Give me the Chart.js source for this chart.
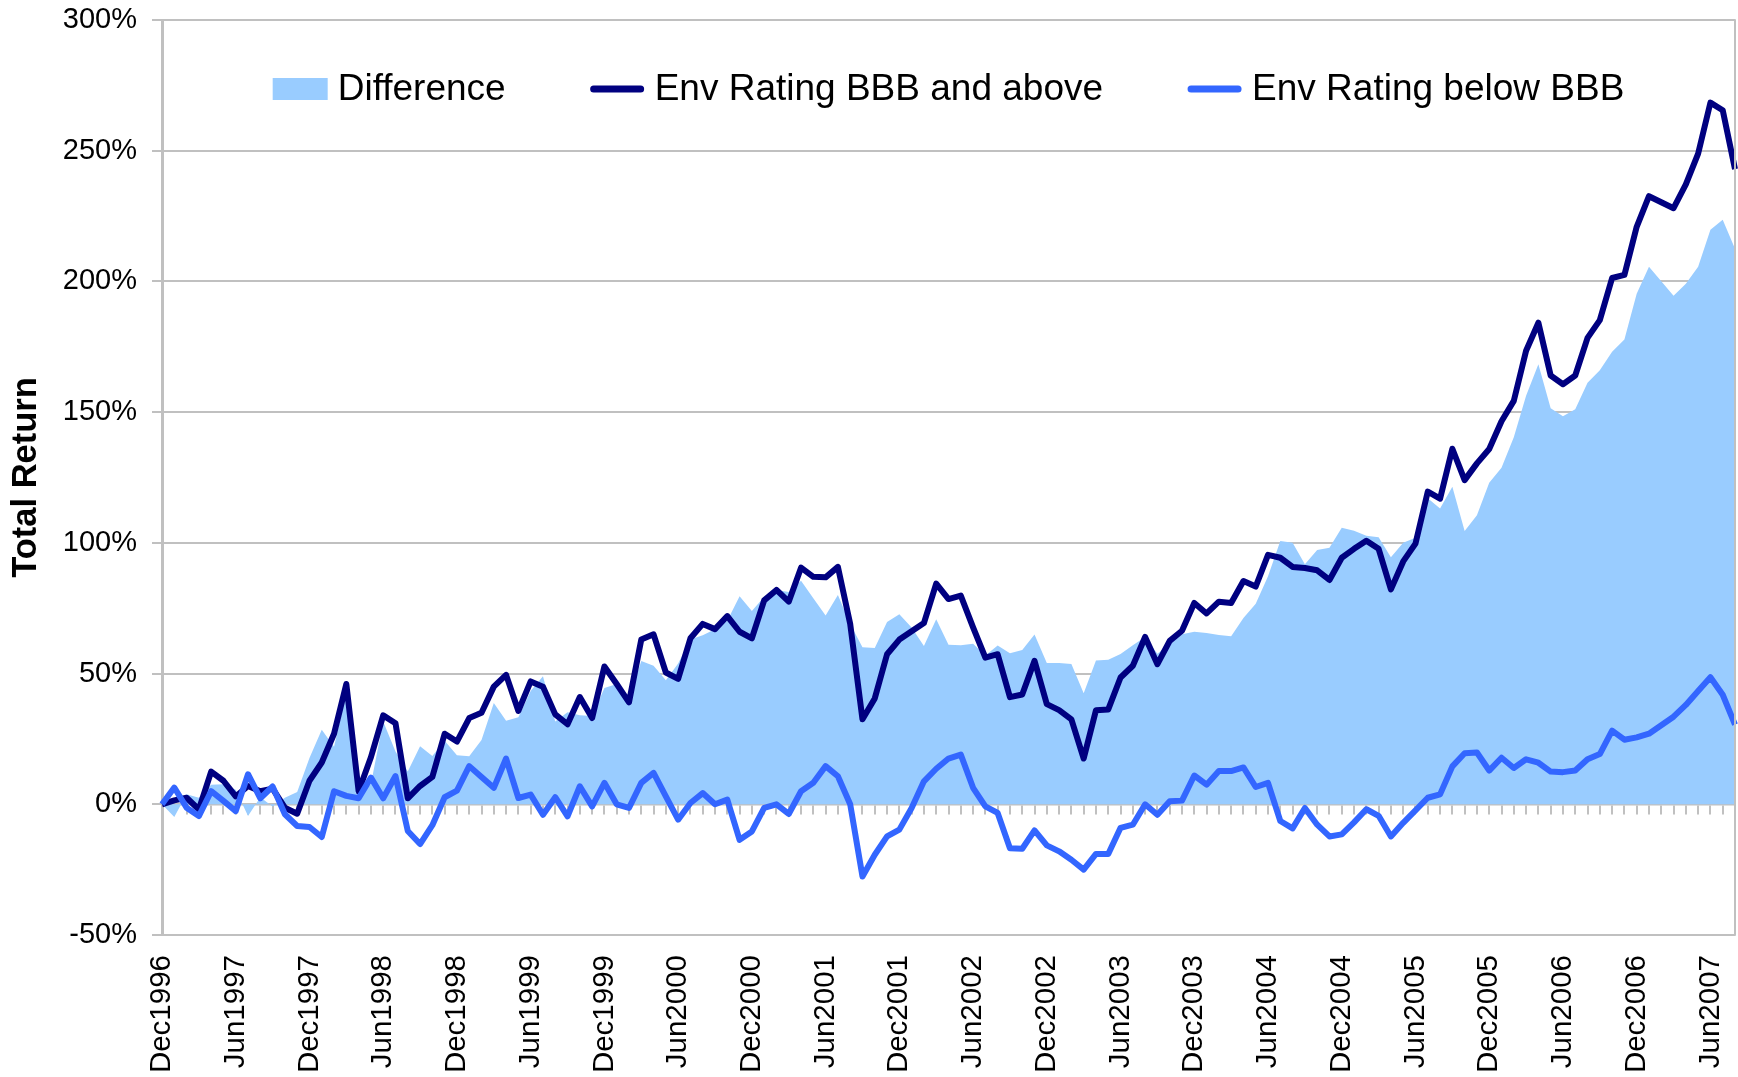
<!DOCTYPE html>
<html>
<head>
<meta charset="utf-8">
<script src="https://cdn.jsdelivr.net/npm/chart.js@4.4.0/dist/chart.umd.min.js"></script>
<style>
html,body{margin:0;padding:0;background:#ffffff;}
#wrap{width:1738px;height:1077px;}
</style>
</head>
<body>
<div id="wrap"><canvas id="c" width="1738" height="1077"></canvas></div>
<script>
// ---- categories (monthly) ----
const months = [
 "Dec1996",
 "Jan1997","Feb1997","Mar1997","Apr1997","May1997","Jun1997","Jul1997","Aug1997","Sep1997","Oct1997","Nov1997","Dec1997",
 "Jan1998","Feb1998","Mar1998","Apr1998","May1998","Jun1998","Jul1998","Aug1998","Sep1998","Oct1998","Nov1998","Dec1998",
 "Jan1999","Feb1999","Mar1999","Apr1999","May1999","Jun1999","Jul1999","Aug1999","Sep1999","Oct1999","Nov1999","Dec1999",
 "Jan2000","Feb2000","Mar2000","Apr2000","May2000","Jun2000","Jul2000","Aug2000","Sep2000","Oct2000","Nov2000","Dec2000",
 "Jan2001","Feb2001","Mar2001","Apr2001","May2001","Jun2001","Jul2001","Aug2001","Sep2001","Oct2001","Nov2001","Dec2001",
 "Jan2002","Feb2002","Mar2002","Apr2002","May2002","Jun2002","Jul2002","Aug2002","Sep2002","Oct2002","Nov2002","Dec2002",
 "Jan2003","Feb2003","Mar2003","Apr2003","May2003","Jun2003","Jul2003","Aug2003","Sep2003","Oct2003","Nov2003","Dec2003",
 "Jan2004","Feb2004","Mar2004","Apr2004","May2004","Jun2004","Jul2004","Aug2004","Sep2004","Oct2004","Nov2004","Dec2004",
 "Jan2005","Feb2005","Mar2005","Apr2005","May2005","Jun2005","Jul2005","Aug2005","Sep2005","Oct2005","Nov2005","Dec2005",
 "Jan2006","Feb2006","Mar2006","Apr2006","May2006","Jun2006","Jul2006","Aug2006","Sep2006","Oct2006","Nov2006","Dec2006",
 "Jan2007","Feb2007","Mar2007","Apr2007","May2007","Jun2007","Jul2007","Aug2007"
];

// ---- tick labels shown on the x axis ----
const xTickLabels = ["Dec1996","Jun1997","Dec1997","Jun1998","Dec1998","Jun1999","Dec1999","Jun2000","Dec2000",
 "Jun2001","Dec2001","Jun2002","Dec2002","Jun2003","Dec2003","Jun2004","Dec2004","Jun2005","Dec2005","Jun2006","Dec2006","Jun2007"];

// ---- y axis ticks (percent) ----
const yTicks = [-50, 0, 50, 100, 150, 200, 250, 300];

// ---- series (total return, %) ----
const bbbAndAbove = [
 0, 1.5, 2.5, -2, 12.5, 9, 3, 7, 5, 6, -1.3, -3.6, 9,
 16, 27, 46, 5, 18, 34, 31, 2.3, 7, 10.5, 27, 24,
 33, 35, 45, 49.5, 35.7, 47, 45, 34.4, 30.6, 41, 33, 52.7,
 46, 39, 63, 65, 50.4, 48, 63.5, 69, 67, 72, 66, 63.5,
 78, 82, 77.5, 90.5, 87, 86.8, 90.8, 69, 32.5, 40.5, 57.4, 63,
 66.2, 69.3, 84.4, 78.5, 79.8, 67.7, 56.1, 57.4, 41, 42, 54.9, 38.3,
 36, 32.5, 17.5, 36, 36.3, 48.5, 53, 64, 53.6, 62.5, 66.4, 77,
 73, 77.5, 77, 85.4, 83.3, 95.4, 94.3, 90.8, 90.4, 89.5, 85.8, 94.3,
 97.7, 100.8, 97.7, 82.2, 92.9, 99.7, 119.6, 116.9, 136, 124, 130.4, 135.9,
 146.5, 154.3, 173.5, 184.2, 164, 160.7, 164, 178.4, 185.2, 201.3, 202.5, 220.9,
 232.6, 230.3, 228, 237.1, 248.9, 268.4, 265.5, 243
];

const belowBbb = [
 0, 6.4, -1.3, -4.5, 5, 1.3, -2.6, 11.5, 2.3, 6.8, -3.8, -8.3, -8.7,
 -12.5, 5, 3.2, 2.3, 10.2, 2.3, 10.8, -10.2, -15.2, -8, 2.7, 5.2,
 14.6, 10.4, 6.3, 17.5, 2.4, 3.7, -4, 2.7, -4.6, 6.9, -0.8, 8.2,
 0, -1.4, 8.2, 12, 3, -5.9, 0.5, 4.3, 0, 1.8, -13.6, -10.4,
 -1.4, 0, -3.7, 5, 8.2, 14.6, 10.7, 0, -27.6, -19.3, -12.3, -9.7,
 -1.4, 8.8, 13.6, 17.5, 19, 6.3, -0.8, -3.3, -16.8, -17, -10, -15.7,
 -18, -21.2, -25, -19, -19, -9, -7.8, 0, -4, 1.2, 1.4, 11,
 7.5, 12.7, 12.7, 14.1, 6.6, 8.2, -6.4, -9.2, -1.4, -7.8, -12.3, -11.5,
 -6.9, -1.9, -4.4, -12.3, -7.1, -2.3, 2.5, 3.8, 14.5, 19.5, 19.8, 12.9,
 17.8, 13.9, 17.2, 15.9, 12.5, 12.3, 12.9, 17.2, 19.2, 28.2, 24.7, 25.6,
 27, 30.2, 33.5, 38, 43.3, 48.6, 41.9, 30.5
];

const difference = [
 0, -4.9, 3.8, 2.5, 7.5, 7.7, 5.6, -4.5, 2.7, -0.8, 2.5, 4.7, 17.7,
 28.5, 22, 42.8, 2.7, 7.8, 31.7, 20.2, 12.5, 22.2, 18.5, 24.3, 18.8,
 18.4, 24.6, 38.7, 32, 33.3, 43.3, 49, 31.7, 35.2, 34.1, 33.8, 44.5,
 46, 40.4, 54.8, 53, 47.4, 53.9, 63, 64.7, 67, 70.2, 79.6, 73.9,
 79.4, 82, 81.2, 85.5, 78.8, 72.2, 80.1, 69, 60.1, 59.8, 69.7, 72.7,
 67.6, 60.5, 70.8, 61, 60.8, 61.4, 56.9, 60.7, 57.8, 59, 64.9, 54,
 54, 53.7, 42.5, 55, 55.3, 57.5, 60.8, 64, 57.6, 61.3, 65, 66,
 65.5, 64.8, 64.3, 71.3, 76.7, 87.2, 100.7, 100, 91.8, 97.3, 98.1, 105.8,
 104.6, 102.7, 102.1, 94.5, 100, 102, 117.1, 113.1, 121.5, 104.5, 110.6, 123,
 128.7, 140.4, 156.3, 168.3, 151.5, 148.4, 151.1, 161.2, 166, 173.1, 177.8, 195.3,
 205.6, 200.1, 194.5, 199.1, 205.6, 219.8, 223.6, 212.5
];

const FONT = '"Liberation Sans", Arial, Helvetica, sans-serif';
Chart.defaults.font.family = FONT;
Chart.defaults.color = '#000000';

const GRID = '#c0c0c0';

const insideLegend = {
  id: 'insideLegend',
  afterDraw(chart) {
    const ctx = chart.ctx;
    const area = chart.chartArea;
    ctx.save();
    ctx.font = '37px ' + FONT;
    const sym = 55, gap = 10, spacing = 84;
    const items = chart.data.datasets.map(ds => ({ds, w: ctx.measureText(ds.label).width}));
    const total = items.reduce((s, it) => s + sym + gap + it.w, 0) + spacing * (items.length - 1);
    let x = (area.left + area.right) / 2 - total / 2;
    const y = area.top + 69;
    items.forEach(it => {
      if (it.ds.fill) {
        ctx.fillStyle = it.ds.backgroundColor;
        ctx.fillRect(x, y - 11, sym, 22);
      } else {
        ctx.strokeStyle = it.ds.borderColor;
        ctx.lineWidth = 7;
        ctx.lineCap = 'round';
        ctx.beginPath();
        ctx.moveTo(x + 4, y);
        ctx.lineTo(x + sym - 4, y);
        ctx.stroke();
      }
      ctx.fillStyle = '#000000';
      ctx.textAlign = 'left';
      ctx.textBaseline = 'middle';
      ctx.fillText(it.ds.label, x + sym + gap, y + 1);
      x += sym + gap + it.w + spacing;
    });
    // right plot border
    ctx.strokeStyle = GRID;
    ctx.lineWidth = 2;
    ctx.beginPath();
    ctx.moveTo(area.right, area.top);
    ctx.lineTo(area.right, area.bottom);
    ctx.stroke();
    ctx.restore();
  }
};

new Chart(document.getElementById('c'), {
  type: 'line',
  data: {
    labels: months,
    datasets: [
      {
        label: 'Difference',
        data: difference,
        fill: 'origin',
        backgroundColor: '#99CCFF',
        borderColor: 'rgba(0,0,0,0)',
        borderWidth: 0,
        pointRadius: 0,
        tension: 0,
        order: 3
      },
      {
        label: 'Env Rating BBB and above',
        data: bbbAndAbove,
        fill: false,
        borderColor: '#000080',
        backgroundColor: '#000080',
        borderWidth: 6,
        borderJoinStyle: 'round',
        pointRadius: 0,
        tension: 0,
        order: 2
      },
      {
        label: 'Env Rating below BBB',
        data: belowBbb,
        fill: false,
        borderColor: '#3366FF',
        backgroundColor: '#3366FF',
        borderWidth: 6,
        borderJoinStyle: 'round',
        pointRadius: 0,
        tension: 0,
        order: 1
      }
    ]
  },
  options: {
    responsive: false,
    animation: false,
    devicePixelRatio: 1,
    layout: { padding: { top: 20, right: 3, bottom: 0, left: 0 } },
    plugins: {
      legend: { display: false },
      tooltip: { enabled: false }
    },
    scales: {
      x: {
        type: 'category',
        position: 'bottom',
        offset: false,
        grid: { display: false, drawTicks: false },
        border: { display: false },
        ticks: {
          autoSkip: false,
          maxRotation: 90,
          minRotation: 90,
          padding: 20,
          color: '#000000',
          font: { size: 29.5, family: FONT },
          callback: function (v) {
            const l = this.getLabelForValue(v);
            return xTickLabels.includes(l) ? l : null;
          }
        },
        afterFit(s) { s.height = 142; s.paddingLeft = 0; s.paddingRight = 0; s.paddingTop = 0; s.paddingBottom = 0; }
      },
      x0: {
        type: 'category',
        position: { y: 0 },
        offset: false,
        grid: { display: true, drawOnChartArea: false, drawTicks: true, tickLength: 9, color: GRID, lineWidth: 2 },
        border: { display: true, color: GRID, width: 2.5 },
        ticks: { display: false, autoSkip: false }
      },
      y: {
        type: 'linear',
        position: 'left',
        min: yTicks[0],
        max: yTicks[yTicks.length - 1],
        afterBuildTicks(s) { s.ticks = yTicks.map(v => ({ value: v })); },
        ticks: {
          padding: 15,
          color: '#000000',
          font: { size: 29, family: FONT },
          callback: v => v + '%'
        },
        grid: { color: GRID, lineWidth: 2, drawTicks: true, tickLength: 10 },
        border: { display: true, color: GRID, width: 3 },
        title: {
          display: true,
          text: 'Total Return',
          color: '#000000',
          font: { size: 34.5, weight: 'bold', family: FONT },
          padding: { top: 6, bottom: 0 }
        },
        afterFit(s) { s.width = 162; s.paddingTop = 0; s.paddingBottom = 0; s.paddingLeft = 0; s.paddingRight = 0; }
      }
    }
  },
  plugins: [insideLegend]
});
</script>
</body>
</html>
